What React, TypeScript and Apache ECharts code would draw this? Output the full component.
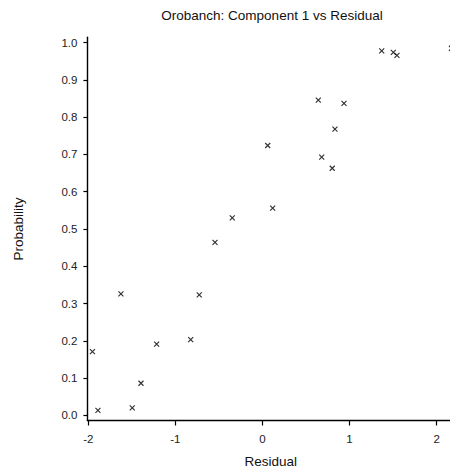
import React, { useEffect, useRef } from "react";
import * as echarts from "echarts";

// Residual (x) and probability (y) for each observation
const residuals = [
  1.369, 1.502, 1.544, 2.17, 0.641, 0.936, 0.832, 0.06, 0.68, 0.801, 0.117,
  -0.347, -0.545, -1.625, -0.726, -0.824, -1.215, -1.952, -1.395, -1.889, -1.495,
];
const probabilities = [
  0.978, 0.974, 0.966, 0.985, 0.846, 0.837, 0.768, 0.724, 0.693, 0.663, 0.556,
  0.53, 0.464, 0.326, 0.323, 0.203, 0.191, 0.171, 0.086, 0.013, 0.02,
];

const xTicks = [-2, -1, 0, 1, 2];
const yTicks = [0, 0.1, 0.2, 0.3, 0.4, 0.5, 0.6, 0.7, 0.8, 0.9, 1.0];

const FONT = "'Liberation Sans', Arial, Helvetica, sans-serif";

export default function App() {
  const ref = useRef<HTMLDivElement>(null);

  useEffect(() => {
    if (!ref.current) return;
    const chart = echarts.init(ref.current, null, { renderer: "svg" });
    const points = residuals.map((x, i) => [x, probabilities[i]]);

    chart.setOption({
      animation: false,
      backgroundColor: "#ffffff",
      title: {
        text: "Orobanch: Component 1 vs Residual",
        left: 272,
        top: 8,
        padding: 0,
        textAlign: "center",
        textStyle: {
          fontFamily: FONT,
          fontSize: 13.5,
          fontWeight: "normal",
          color: "#111",
        },
      },
      grid: {
        left: 87.4,
        right: -4.1,
        top: 37.3,
        bottom: 50.5,
        containLabel: false,
        outerBoundsMode: "none",
      },
      xAxis: {
        type: "value",
        min: -2.01,
        max: 2.2,
        name: "Residual",
        nameLocation: "middle",
        nameGap: 34,
        nameTextStyle: { fontFamily: FONT, fontSize: 13.5, color: "#111" },
        axisLine: { show: true, onZero: false, lineStyle: { color: "#000", width: 1.4 } },
        axisTick: {
          show: true,
          inside: false,
          length: 5,
          customValues: xTicks,
          lineStyle: { color: "#000", width: 1.2 },
        },
        axisLabel: {
          customValues: xTicks,
          margin: 12,
          fontFamily: FONT,
          fontSize: 11.5,
          color: "#222",
          formatter: (v: number) => String(v),
        },
        splitLine: { show: false },
      },
      yAxis: {
        type: "value",
        min: -0.014,
        max: 1.0145,
        name: "Probability",
        nameLocation: "middle",
        nameGap: 62,
        nameTextStyle: { fontFamily: FONT, fontSize: 13.5, color: "#111" },
        axisLine: { show: true, onZero: false, lineStyle: { color: "#000", width: 1.4 } },
        axisTick: {
          show: true,
          inside: false,
          length: 4,
          customValues: yTicks,
          lineStyle: { color: "#000", width: 1.2 },
        },
        axisLabel: {
          customValues: yTicks,
          margin: 10,
          fontFamily: FONT,
          fontSize: 11.5,
          color: "#222",
          formatter: (v: number) => v.toFixed(1),
        },
        splitLine: { show: false },
      },
      series: [
        {
          type: "scatter",
          data: points,
          symbol: "path://M0,0L10,10M10,0L0,10",
          symbolSize: 5,
          itemStyle: { color: "none", borderColor: "#000", borderWidth: 1.2 },
          clip: false,
        },
      ],
    });

    return () => chart.dispose();
  }, []);

  return (
    <div
      ref={ref}
      style={{ position: "fixed", left: 0, top: 0, width: 450, height: 471, background: "#fff" }}
    />
  );
}
